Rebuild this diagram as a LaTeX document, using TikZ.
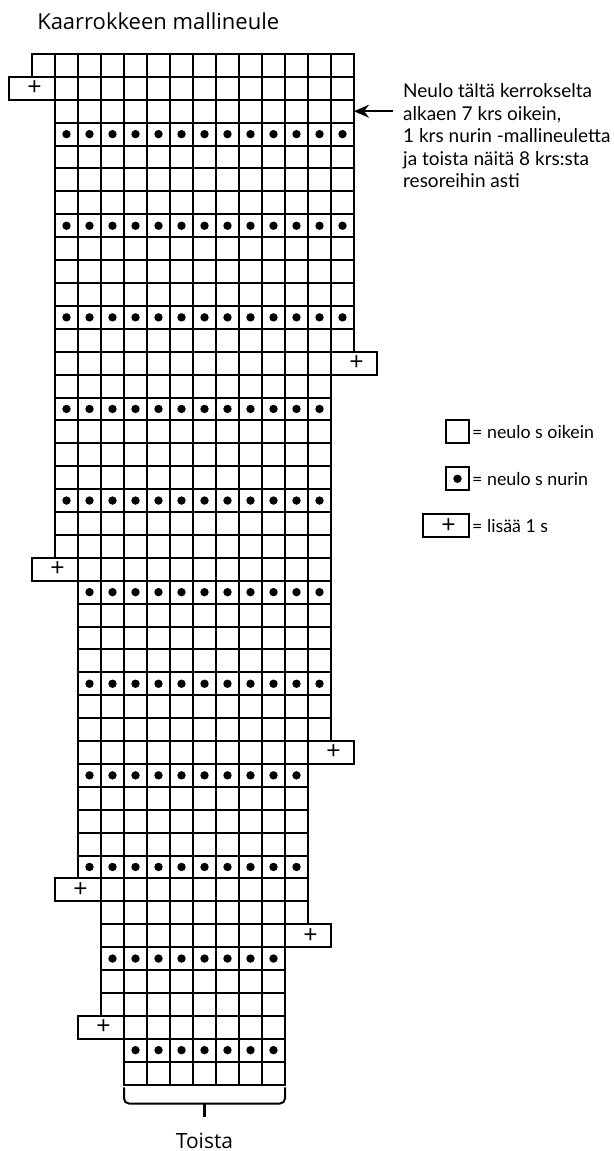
\documentclass[tikz,border=0pt]{standalone}
\usepackage{fontspec}
\setmainfont{Lato}
\newfontfamily\headfont{Open Sans}
\usetikzlibrary{arrows.meta,positioning}
\tikzset{
  >={Stealth[length=15pt,width=13pt]},
  cell/.style={draw,line width=2pt,minimum width=23pt,minimum height=22.9pt,
    inner sep=0pt,outer sep=0pt},
  plusbox/.style={draw,line width=2pt,minimum width=46pt,minimum height=22.9pt,
    inner sep=0pt,outer sep=0pt,font=\headfont\fontsize{25}{25}\selectfont},
  note/.style={align=left,inner sep=0pt,font=\fontsize{19}{22.5}\selectfont},
  keytext/.style={inner sep=0pt,font=\fontsize{17.8}{20}\selectfont},
  bracket/.style={line width=2pt,rounded corners=5pt},
}

\begin{document}
\begin{tikzpicture}[x=23pt,y=22.9pt]
    \useasboundingbox (-1.3913,2.358) rectangle (25.261,-47.904);
    \node[anchor=base west,inner sep=0pt,font=\headfont\fontsize{22}{26}\selectfont] (title) at (0.22,1.08) {Kaarrokkeen mallineule};
    % rows: first row / last row / first column / last column
    \foreach \ra/\rb/\a/\b in {1/1/0/13, 2/13/1/13, 14/22/1/12, 23/30/2/12,
        31/36/2/11, 37/38/3/11, 39/42/3/10, 43/45/4/10} {
      \foreach \r in {\ra,...,\rb} {
        \pgfmathtruncatemacro\m{mod(\r,4)}
        \foreach \c in {\a,...,\b} {
          \node[cell] (c\r-\c) at (\c+.5,-\r+.5) {};
          \ifnum\m=0 \fill (c\r-\c) circle (4.2pt); \fi
        }
      }
    }
    % increases: row / left column of the box
    \foreach \r/\c in {2/-1, 14/13, 23/0, 31/12, 37/1, 39/11, 43/2}
      \node[plusbox] (plus\r) at (\c+1,-\r+.5) {\hspace{5pt}+};
    \node[note,anchor=north west] (note) at (16.13,-1.28) {Neulo tältä kerrokselta\\alkaen 7 krs oikein,\\1 krs nurin -mallineuletta\\ja toista näitä 8 krs:sta\\resoreihin asti};
    \coordinate (notetail) at (15.7,-2.5);
    \draw[->,line width=2pt] (notetail) -- (c3-13.east);
    % legend
    \node[cell] (keyk) at (18.5,-16.5) {};
    \node[cell] (keyp) at (18.5,-18.55) {};
    \fill (keyp) circle (4.2pt);
    \node[plusbox] (keyplus) at (18,-20.6) {\hspace{5pt}+};
    \node[keytext,right=3pt of keyk] (keyktext) {= neulo s oikein};
    \node[keytext,right=3pt of keyp] (keyptext) {= neulo s nurin};
    \node[keytext,right=3pt of keyplus] (keyplustext) {= lisää 1 s};
    % repeat
    \draw[bracket] (4,-45.13) -- (4,-45.83) -- (11,-45.83) -- (11,-45.13);
    \coordinate (bracetop) at (7.5,-45.83);
    \coordinate (bracetip) at (7.5,-46.44);
    \draw[line width=2.6pt] (bracetop) -- (bracetip);
    \node[inner sep=0pt,text height=15pt,text depth=0pt,below=15.5pt of bracetip,
      font=\headfont\fontsize{21}{24}\selectfont] (toista) {Toista};
\end{tikzpicture}
\end{document}
